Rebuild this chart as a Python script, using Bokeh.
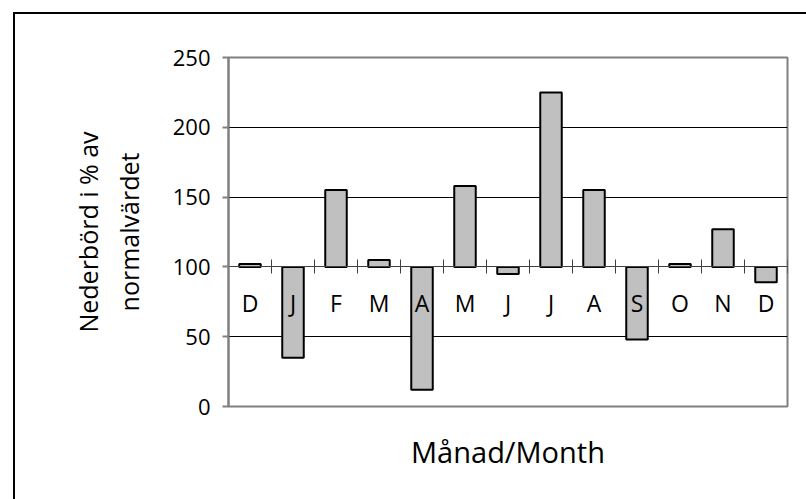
from bokeh.plotting import figure
from bokeh.models import Range1d, LinearAxis, FixedTicker, Grid
from bokeh.embed import file_html
from bokeh.resources import INLINE

months = ["D", "J", "F", "M", "A", "M", "J", "J", "A", "S", "O", "N", "D"]
values = [102, 35, 155, 105, 12, 158, 95, 225, 155, 48, 102, 127, 89]
normal = 100
y_ticks = [0, 50, 100, 150, 200, 250]
y_title = "Nederbörd i % av\nnormalvärdet"
x_title = "Månad/Month"

FONT = "Open Sans"
idx = list(range(len(months)))

p = figure(width=806, height=499, output_backend="svg", toolbar_location=None,
           x_range=Range1d(-0.5, len(months) - 0.5), y_range=Range1d(0, 250),
           x_axis_type=None, y_axis_type=None,
           min_border_left=228, min_border_right=19, min_border_top=57, min_border_bottom=93)
# outer chart border (left and top edges) drawn behind a transparent canvas border
p.styles = {"box-shadow": "inset 13px 12px 0 0 #fff, inset 15px 14px 0 0 #000"}
p.outline_line_color = "#808080"
p.outline_line_width = 2
p.background_fill_color = "white"
p.border_fill_color = None

# y axis
yax = LinearAxis(ticker=FixedTicker(ticks=y_ticks))
yax.axis_line_color = "#808080"
yax.axis_line_width = 2
yax.major_tick_line_color = "#808080"
yax.major_tick_line_width = 2
yax.major_tick_out = 6
yax.major_tick_in = 0
yax.minor_tick_line_color = None
yax.major_label_text_font = FONT
yax.major_label_text_font_size = "22px"
yax.major_label_text_color = "black"
yax.major_label_standoff = 12
yax.axis_label = y_title
yax.axis_label_text_font = FONT
yax.axis_label_text_font_size = "25px"
yax.axis_label_text_font_style = "normal"
yax.axis_label_text_color = "black"
yax.axis_label_standoff = 24
p.add_layout(yax, "left")

# gridlines
p.add_layout(Grid(dimension=1, ticker=FixedTicker(ticks=y_ticks),
                  grid_line_color="black", grid_line_width=1))

# bars around the normal line
p.vbar(x=idx, top=values, bottom=normal, width=0.5,
       fill_color="#c0c0c0", line_color="black", line_width=2)

# category axis through the 100 line
bounds = [i + 0.5 for i in range(-1, len(months))]
cax = LinearAxis(ticker=FixedTicker(ticks=idx, minor_ticks=bounds), fixed_location=normal)
cax.major_label_overrides = {i: m for i, m in zip(idx, months)}
cax.axis_line_color = "#404040"
cax.axis_line_width = 1
cax.major_tick_line_color = None
cax.minor_tick_line_color = "#404040"
cax.minor_tick_line_width = 1
cax.minor_tick_in = 7
cax.minor_tick_out = 7
cax.major_label_text_font = FONT
cax.major_label_text_font_size = "23px"
cax.major_label_text_color = "black"
cax.major_label_standoff = 13
p.add_layout(cax, "below")

# title axis
tax = LinearAxis(ticker=FixedTicker(ticks=[]))
tax.axis_line_color = None
tax.major_tick_line_color = None
tax.minor_tick_line_color = None
tax.axis_label = x_title
tax.axis_label_text_font = FONT
tax.axis_label_text_font_size = "29px"
tax.axis_label_text_font_style = "normal"
tax.axis_label_text_color = "black"
tax.axis_label_standoff = 25
p.add_layout(tax, "below")

open("out.html", "w").write(file_html(p, INLINE))
